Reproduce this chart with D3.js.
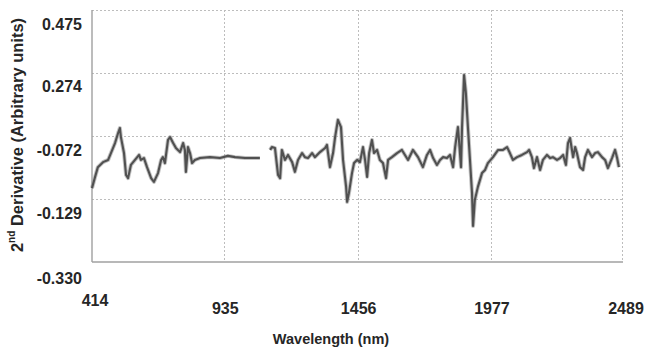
<!DOCTYPE html>
<html>
<head>
<meta charset="utf-8">
<script src="https://cdn.jsdelivr.net/npm/d3@7"></script>
<style>
  body { margin: 0; background: #fff; }
  svg { display: block; font-family: "Liberation Sans", Arial, sans-serif; }
</style>
</head>
<body>
<div id="chart"></div>
<script>
// tick labels as printed on the chart
const xTicks = [414, 935, 1456, 1977, 2489];
const yTicks = [0.475, 0.274, 0.0725, -0.129, -0.330];
const yTickLabels = ['0.475', '0.274', '-0.072', '-0.129', '-0.330'];

// spectrum, first part (visible range)
const wl1 = [414, 426, 437, 457, 477, 488, 504, 516, 523, 527, 539, 547, 555, 566, 582, 598, 605, 617, 629, 645,
  656, 672, 684, 691, 699, 711, 719, 731, 742, 758, 770, 777, 781, 789, 797, 805, 816, 836, 875, 914,
  945, 973, 1012, 1039, 1070];
const val1 = [-0.094, -0.058, -0.027, -0.011, -0.004, 0.018, 0.050, 0.082, 0.098, 0.069, 0.018, -0.052, -0.062, -0.020, -0.004, 0.012, -0.004, 0.002, -0.027, -0.062,
  -0.074, -0.046, -0.004, 0.005, -0.014, 0.060, 0.069, 0.050, 0.034, 0.021, 0.050, 0.028, -0.042, 0.037, 0.018, -0.014, -0.004, 0.002, 0.005, 0.002,
  0.009, 0.005, 0.002, 0.002, 0.002];

// spectrum, second part (NIR)
const wl2 = [1110, 1117, 1129, 1141, 1149, 1156, 1168, 1180, 1196, 1207, 1219, 1235, 1246, 1258, 1274, 1285, 1305, 1325, 1332, 1344,
  1356, 1364, 1375, 1387, 1395, 1407, 1411, 1418, 1430, 1438, 1450, 1461, 1473, 1481, 1489, 1497, 1508, 1516, 1528, 1539,
  1551, 1563, 1571, 1586, 1606, 1625, 1637, 1649, 1668, 1688, 1707, 1723, 1735, 1747, 1762, 1774, 1786, 1801, 1813, 1825,
  1833, 1844, 1848, 1856, 1860, 1868, 1875, 1883, 1891, 1899, 1903, 1910, 1922, 1938, 1950, 1961, 1981, 2001, 2020, 2036,
  2047, 2059, 2075, 2094, 2114, 2122, 2133, 2141, 2153, 2165, 2176, 2192, 2204, 2215, 2231, 2243, 2255, 2266, 2274, 2282,
  2294, 2302, 2309, 2321, 2333, 2341, 2352, 2368, 2380, 2391, 2407, 2419, 2430, 2446, 2458, 2466, 2473];
const val2 = [0.028, 0.037, 0.034, -0.052, -0.062, 0.028, -0.004, 0.012, -0.011, -0.042,
  -0.004, 0.018, 0.005, 0.002, 0.018, 0.005, 0.021, 0.034, 0.044, -0.027,
  0.018, 0.069, 0.124, 0.101, -0.004, -0.090, -0.138, -0.110, -0.046, -0.014,
  -0.004, -0.011, 0.037, -0.004, -0.058, 0.018, 0.060, 0.018, 0.028, -0.004,
  -0.014, -0.062, -0.004, 0.005, 0.018, 0.028, 0.012, -0.004, 0.028, 0.005,
  -0.027, 0.012, 0.028, 0.002, -0.020, -0.004, 0.005, 0.002, 0.012, -0.027,
  0.037, 0.101, 0.060, -0.027, 0.101, 0.267, 0.210, 0.101, -0.004, -0.110,
  -0.215, -0.132, -0.090, -0.046, -0.036, -0.014, 0.005, 0.028, 0.028, 0.037,
  0.018, -0.004, 0.005, 0.012, 0.021, 0.028, 0.005, -0.030, 0.005, -0.036,
  -0.004, 0.012, 0.002, 0.005, -0.004, 0.002, 0.012, -0.020, 0.050, 0.066,
  0.005, 0.037, 0.018, -0.027, -0.036, 0.005, 0.028, 0.005, 0.018, 0.021,
  0.005, -0.004, -0.030, 0.002, 0.028, 0.002, -0.027];

const W = 649, H = 349;
const margin = { top: 10, right: 26, bottom: 87, left: 92 };
const width = W - margin.left - margin.right;
const height = H - margin.top - margin.bottom;

const svg = d3.select('#chart').append('svg')
  .attr('width', W)
  .attr('height', H);

const g = svg.append('g')
  .attr('transform', `translate(${margin.left},${margin.top})`);

const x = d3.scaleLinear().domain([414, 2489]).range([0, width]);
const y = d3.scaleLinear().domain([-0.330, 0.475]).range([height, 0]);

// dotted grid (top and right edges included)
g.selectAll('.hgrid')
  .data(yTicks.slice(0, 4))
  .enter().append('line')
  .attr('x1', 0).attr('x2', width)
  .attr('y1', d => Math.round(y(d)) + 0.5).attr('y2', d => Math.round(y(d)) + 0.5)
  .attr('stroke', '#bdbdbd')
  .attr('stroke-dasharray', '2,2');

g.selectAll('.vgrid')
  .data(xTicks.slice(1))
  .enter().append('line')
  .attr('x1', d => Math.round(x(d)) - 0.5).attr('x2', d => Math.round(x(d)) - 0.5)
  .attr('y1', 0).attr('y2', height)
  .attr('stroke', '#bdbdbd')
  .attr('stroke-dasharray', '2,2');

// solid left and bottom frame
g.append('line').attr('x1', 0).attr('x2', 0).attr('y1', 0).attr('y2', height)
  .attr('stroke', '#a0a0a0').attr('stroke-width', 1.4);
g.append('line').attr('x1', 0).attr('x2', width).attr('y1', height).attr('y2', height)
  .attr('stroke', '#a0a0a0').attr('stroke-width', 1.4);

// y tick labels (they sit a bit below their grid lines in the original)
g.selectAll('.ylab')
  .data(yTicks)
  .enter().append('text')
  .attr('x', -10)
  .attr('y', (d, i) => y(d) + (i === 4 ? 16 : 14))
  .attr('text-anchor', 'end')
  .attr('dominant-baseline', 'central')
  .attr('font-size', '16px')
  .attr('font-weight', 'bold')
  .attr('fill', '#262626')
  .text((d, i) => yTickLabels[i]);

// x tick labels
g.selectAll('.xlab')
  .data(xTicks)
  .enter().append('text')
  .attr('x', (d, i) => x(d) + (i === 0 ? 3 : (i === 4 ? 3 : 0)))
  .attr('y', (d, i) => height + (i === 0 ? 38 : 46))
  .attr('text-anchor', 'middle')
  .attr('dominant-baseline', 'central')
  .attr('font-size', '16px')
  .attr('font-weight', 'bold')
  .attr('fill', '#262626')
  .text(d => d);

// axis titles
svg.append('text')
  .attr('x', 331)
  .attr('y', 339)
  .attr('text-anchor', 'middle')
  .attr('dominant-baseline', 'central')
  .attr('font-size', '14.5px')
  .attr('font-weight', 'bold')
  .attr('fill', '#262626')
  .text('Wavelength (nm)');

const yTitle = svg.append('text')
  .attr('transform', 'translate(17,135) rotate(-90)')
  .attr('text-anchor', 'middle')
  .attr('dominant-baseline', 'central')
  .attr('font-size', '16.5px')
  .attr('font-weight', 'bold')
  .attr('fill', '#262626');
yTitle.append('tspan').text('2');
yTitle.append('tspan').attr('font-size', '10px').attr('dy', -6).text('nd');
yTitle.append('tspan').attr('dy', 6).text(' Derivative (Arbitrary units)');

// spectra
const line = d3.line()
  .x(d => x(d[0]))
  .y(d => y(d[1]))
  .curve(d3.curveLinear);

const segments = [
  d3.zip(wl1, val1),
  d3.zip(wl2, val2)
];

// soft halo from the overlapping replicate spectra
g.selectAll('.halo')
  .data(segments)
  .enter().append('path')
  .attr('d', line)
  .attr('fill', 'none')
  .attr('stroke', '#9a9a9a')
  .attr('stroke-width', 4)
  .attr('stroke-linejoin', 'round')
  .attr('opacity', 0.6);

g.selectAll('.spec')
  .data(segments)
  .enter().append('path')
  .attr('d', line)
  .attr('fill', 'none')
  .attr('stroke', '#505050')
  .attr('stroke-width', 2.1)
  .attr('stroke-linejoin', 'round');
</script>
</body>
</html>
